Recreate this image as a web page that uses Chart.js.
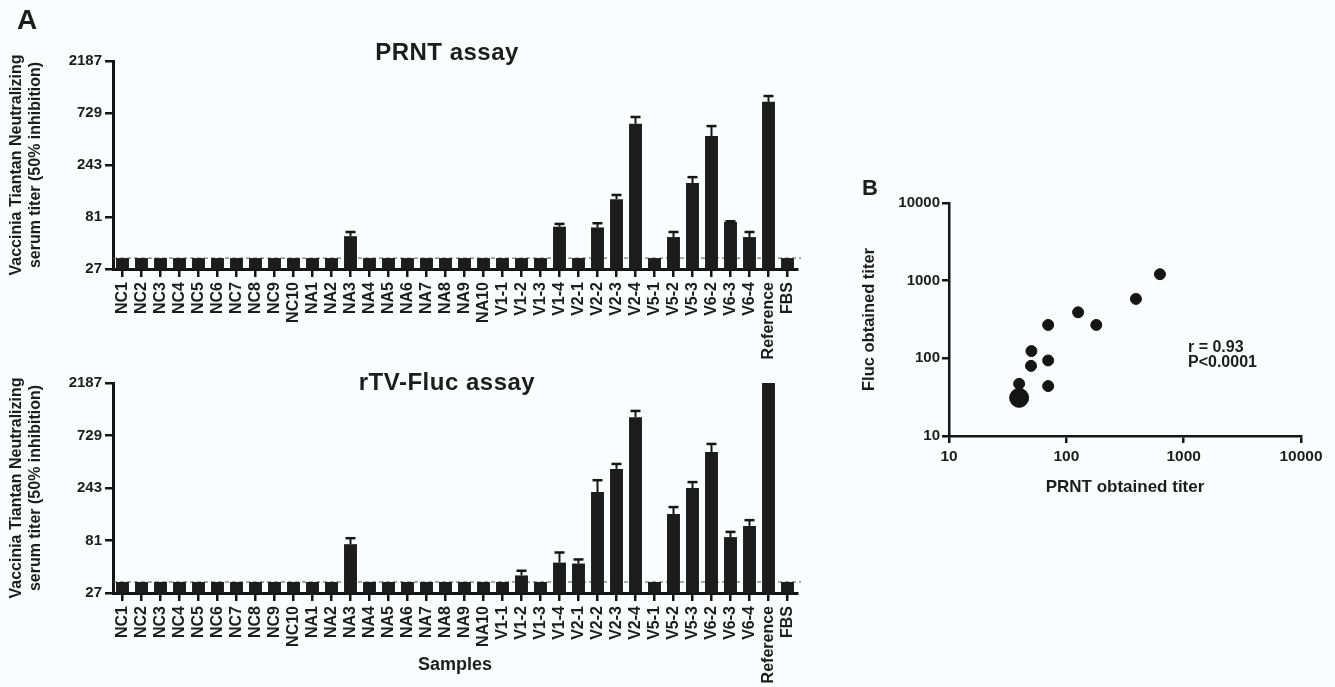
<!DOCTYPE html>
<html lang="en">
<head>
    <meta charset="UTF-8">
    <title>Vaccinia Tiantan neutralizing titers</title>
    <script src="https://cdn.jsdelivr.net/npm/chart.js"></script>
    <style>
        body {
            margin: 0;
            background: #fbfcfd;
            font-family: 'Liberation Sans', Arial, sans-serif;
            color: #1d1d1d;
        }
        #stage {
            position: relative;
            width: 1335px;
            height: 687px;
            overflow: hidden;
        }
        canvas, .lbl {
            position: absolute;
        }
        .lbl {
            font-weight: bold;
            line-height: 1;
            white-space: nowrap;
        }
    </style>
</head>
<body>
<div id="stage">
    <canvas id="prntChart" width="830" height="365" style="left:0;top:0"></canvas>
    <canvas id="flucChart" width="830" height="347" style="left:0;top:340px"></canvas>
    <canvas id="corrChart" width="495" height="340" style="left:840px;top:170px"></canvas>

    <div class="lbl" style="left:17px;top:6px;font-size:28px">A</div>
    <div class="lbl" style="left:347px;top:40px;width:200px;text-align:center;font-size:24px;letter-spacing:0.5px">PRNT assay</div>
    <div class="lbl" style="left:347px;top:370px;width:200px;text-align:center;font-size:24px;letter-spacing:0.5px">rTV-Fluc assay</div>
    <div class="lbl" style="left:862px;top:177px;font-size:22px">B</div>
    <div class="lbl" style="left:1188px;top:339px;font-size:16px;line-height:15px">r = 0.93<br>P&lt;0.0001</div>
</div>

<script>
    // Samples (x categories of panel A)
    const samples = ['NC1', 'NC2', 'NC3', 'NC4', 'NC5', 'NC6', 'NC7', 'NC8', 'NC9', 'NC10',
        'NA1', 'NA2', 'NA3', 'NA4', 'NA5', 'NA6', 'NA7', 'NA8', 'NA9', 'NA10',
        'V1-1', 'V1-2', 'V1-3', 'V1-4', 'V2-1', 'V2-2', 'V2-3', 'V2-4',
        'V5-1', 'V5-2', 'V5-3', 'V6-2', 'V6-3', 'V6-4', 'Reference', 'FBS'];

    // PRNT assay titers (mean) and upper error
    const prntTiter = [34, 34, 34, 34, 34, 34, 34, 34, 34, 34,
        34, 34, 54, 34, 34, 34, 34, 34, 34, 34,
        34, 34, 34, 66, 34, 65, 118, 580,
        34, 53, 166, 448, 73, 53, 923, 34];
    const prntErr = [0, 0, 0, 0, 0, 0, 0, 0, 0, 0,
        0, 0, 5, 0, 0, 0, 0, 0, 0, 0,
        0, 0, 0, 4, 0, 6, 11, 90,
        0, 6, 22, 105, 1, 6, 120, 0];

    // rTV-Fluc assay titers (mean) and upper error
    const flucTiter = [34, 34, 34, 34, 34, 34, 34, 34, 34, 34,
        34, 34, 75, 34, 34, 34, 34, 34, 34, 34,
        34, 39, 34, 51, 50, 223, 362, 1069,
        34, 141, 243, 516, 87, 110, 2187, 34];
    const flucErr = [0, 0, 0, 0, 0, 0, 0, 0, 0, 0,
        0, 0, 10, 0, 0, 0, 0, 0, 0, 0,
        0, 4, 0, 12, 4.5, 63, 40, 150,
        0, 22, 32, 95, 10, 14, 0, 0];

    const titerTicks = [27, 81, 243, 729, 2187];
    const detectionLimit = 34;

    // Panel B: correlation of the two assays
    const corrPrnt = [628, 392, 126, 180, 70, 50.4, 50, 70, 70, 39.6, 39.6];
    const corrFluc = [1211, 582, 392, 269, 269, 124, 80, 94, 44, 47, 31];
    const logTicks = [10, 100, 1000, 10000];
    const pooledPointIndex = 10; // overlapping negative samples

    const ink = '#151515';
    Chart.defaults.font.family = "'Liberation Sans', Arial, sans-serif";
    Chart.defaults.font.weight = 'bold';
    Chart.defaults.color = '#1d1d1d';

    // upper error bars
    const errorBars = {
        id: 'errorBars',
        afterDatasetsDraw(chart, args, opts) {
            const ctx = chart.ctx;
            const y = chart.scales.y;
            const meta = chart.getDatasetMeta(0);
            const vals = chart.data.datasets[0].data;
            ctx.save();
            ctx.strokeStyle = ink;
            meta.data.forEach((bar, i) => {
                const err = opts.errors[i];
                if (!err) return;
                const top = y.getPixelForValue(vals[i] + err);
                ctx.lineWidth = 2;
                ctx.beginPath();
                ctx.moveTo(bar.x, bar.y);
                ctx.lineTo(bar.x, top);
                ctx.stroke();
                ctx.lineWidth = 2.5;
                ctx.beginPath();
                ctx.moveTo(bar.x - 5, top);
                ctx.lineTo(bar.x + 5, top);
                ctx.stroke();
            });
            ctx.restore();
        }
    };

    // dashed detection limit line
    const limitLine = {
        id: 'limitLine',
        beforeDatasetsDraw(chart) {
            const ctx = chart.ctx;
            const yPix = chart.scales.y.getPixelForValue(detectionLimit);
            ctx.save();
            ctx.strokeStyle = '#555';
            ctx.lineWidth = 1;
            ctx.setLineDash([4, 3]);
            ctx.beginPath();
            ctx.moveTo(chart.chartArea.left, yPix);
            ctx.lineTo(chart.chartArea.right + 4, yPix);
            ctx.stroke();
            ctx.restore();
        }
    };

    function barChart(id, values, errors, padTop, xHeight, xTitle) {
        new Chart(document.getElementById(id), {
            type: 'bar',
            data: {
                labels: samples,
                datasets: [{
                    data: values,
                    backgroundColor: '#1c1c1c',
                    barPercentage: 0.68,
                    categoryPercentage: 1
                }]
            },
            options: {
                responsive: false,
                animation: false,
                layout: { padding: { left: 0, top: padTop, right: 33, bottom: 0 } },
                plugins: {
                    legend: { display: false },
                    tooltip: { enabled: false },
                    errorBars: { errors: errors }
                },
                scales: {
                    x: {
                        offset: true,
                        grid: { display: true, offset: false, drawOnChartArea: false, tickLength: 8, lineWidth: 2.5, color: ink },
                        border: { color: ink, width: 3 },
                        ticks: { autoSkip: false, minRotation: 90, maxRotation: 90, padding: 5, color: '#1d1d1d', font: { size: 16, weight: 'bold' } },
                        title: xTitle ? { display: true, text: xTitle, font: { size: 18, weight: 'bold' }, padding: { top: 0, bottom: 11 } } : { display: false },
                        afterFit: s => { s.height = xHeight; }
                    },
                    y: {
                        type: 'logarithmic',
                        min: titerTicks[0],
                        max: titerTicks[titerTicks.length - 1],
                        grid: { display: true, drawOnChartArea: false, tickLength: 8, lineWidth: 2.5, color: ink },
                        border: { color: ink, width: 3 },
                        afterBuildTicks: s => { s.ticks = titerTicks.map(v => ({ value: v })); },
                        ticks: { padding: 3, color: '#1d1d1d', font: { size: 15, weight: 'bold' }, callback: v => String(v) },
                        title: {
                            display: true,
                            text: ['Vaccinia Tiantan Neutralizing', 'serum titer (50% inhibition)'],
                            font: { size: 16, weight: 'bold' },
                            padding: { top: 7, bottom: 0 }
                        },
                        afterFit: s => { s.width = 113; }
                    }
                }
            },
            plugins: [limitLine, errorBars]
        });
    }

    barChart('prntChart', prntTiter, prntErr, 61, 96, null);
    barChart('flucChart', flucTiter, flucErr, 43, 94, 'Samples');

    // Panel B scatter
    new Chart(document.getElementById('corrChart'), {
        type: 'scatter',
        data: {
            datasets: [{
                data: corrPrnt.map((x, i) => ({ x: x, y: corrFluc[i] })),
                backgroundColor: ink,
                borderColor: ink,
                pointRadius: c => c.dataIndex === pooledPointIndex ? 9.5 : 5.5
            }]
        },
        options: {
            responsive: false,
            animation: false,
            layout: { padding: { left: 0, top: 33, right: 34, bottom: 0 } },
            plugins: { legend: { display: false }, tooltip: { enabled: false } },
            scales: {
                x: {
                    type: 'logarithmic',
                    min: 10, max: 10000,
                    grid: { display: true, drawOnChartArea: false, tickLength: 7, lineWidth: 2.5, color: ink },
                    border: { color: ink, width: 2.5 },
                    afterBuildTicks: s => { s.ticks = logTicks.map(v => ({ value: v })); },
                    ticks: { padding: 4, color: '#1d1d1d', font: { size: 15.5, weight: 'bold' }, callback: v => String(v) },
                    title: { display: true, text: 'PRNT obtained titer', font: { size: 17, weight: 'bold' }, padding: { top: 0, bottom: 12 } },
                    afterFit: s => { s.height = 74; }
                },
                y: {
                    type: 'logarithmic',
                    min: 10, max: 10000,
                    grid: { display: true, drawOnChartArea: false, tickLength: 7, lineWidth: 2.5, color: ink },
                    border: { color: ink, width: 2.5 },
                    afterBuildTicks: s => { s.ticks = logTicks.map(v => ({ value: v })); },
                    ticks: { padding: 2, color: '#1d1d1d', font: { size: 15, weight: 'bold' }, callback: v => String(v) },
                    title: { display: true, text: 'Fluc obtained titer', font: { size: 16.5, weight: 'bold' }, padding: { top: 20, bottom: 0 } },
                    afterFit: s => { s.width = 109; }
                }
            }
        }
    });
</script>
</body>
</html>
